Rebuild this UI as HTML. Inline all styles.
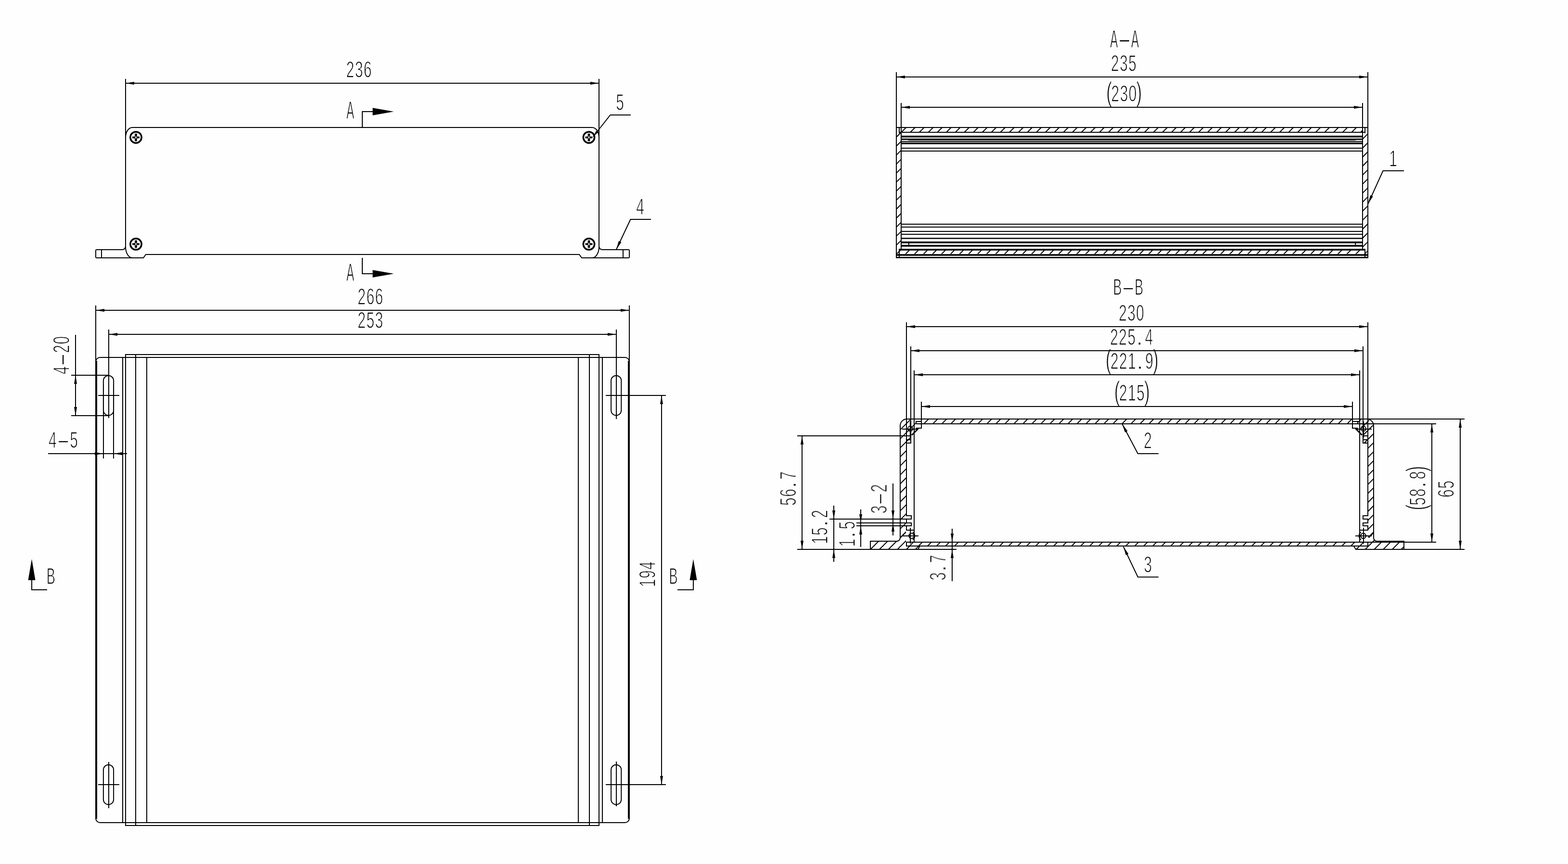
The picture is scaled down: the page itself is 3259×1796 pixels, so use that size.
<!DOCTYPE html>
<html lang="en">
<head>
<meta charset="utf-8">
<title>Enclosure drawing</title>
<style>
html,body{margin:0;padding:0;background:#fefefe;}
body{width:3259px;height:1796px;overflow:hidden;}
svg{display:block;}
.g{fill:none;stroke:#000;stroke-width:2;stroke-linecap:butt;stroke-linejoin:miter;}
.k{fill:#000;stroke:none;}
.t{font-family:"Liberation Sans",sans-serif;font-size:47.7px;fill:#000;text-anchor:middle;stroke:#fefefe;stroke-width:1.4px;vector-effect:non-scaling-stroke;stroke-linejoin:round;opacity:.999;}
</style>
</head>
<body>
<svg width="3259" height="1796" viewBox="0 0 3259 1796">
<rect x="0" y="0" width="3259" height="1796" fill="#fefefe"/>
<g class="t">
<text transform="translate(746,160) scale(0.63,1)" x="-28.75 0 28.75" y="0.7">236</text>
<text transform="translate(728,246.3) scale(0.47,1)" font-size="51.6" x="0" y="0.7">A</text>
<text transform="translate(728,583.5) scale(0.47,1)" font-size="51.6" x="0" y="0.7">A</text>
<text transform="translate(1288.5,228) scale(0.63,1)" x="0" y="0.7">5</text>
<text transform="translate(1330.5,445.5) scale(0.63,1)" x="0" y="0.7">4</text>
<text transform="translate(769.8,632) scale(0.63,1)" x="-28.75 0 28.75" y="0.7">266</text>
<text transform="translate(769.8,681.7) scale(0.63,1)" x="-28.75 0 28.75" y="0.7">253</text>
<text transform="translate(143.5,738.5) rotate(-90) scale(0.63,1)" x="-49.61 -14.38 20.85 49.61" y="0.7">4<tspan textLength="47.14" lengthAdjust="spacingAndGlyphs">-</tspan>20</text>
<text transform="translate(131.5,930.5) scale(0.63,1)" x="-35.23 0 35.23" y="0.7">4<tspan textLength="47.14" lengthAdjust="spacingAndGlyphs">-</tspan>5</text>
<text transform="translate(105.7,1213.7) scale(0.57,1)" font-size="47.5" x="0" y="0.7">B</text>
<text transform="translate(1399.6,1213.7) scale(0.57,1)" font-size="47.5" x="0" y="0.7">B</text>
<text transform="translate(1361.5,1193.8) rotate(-90) scale(0.63,1)" x="-28.75 0 28.75" y="0.7">194</text>
<text transform="translate(2337.2,98.2) scale(0.47,1)" font-size="51.6" x="-46.7 0 46.7" y="0.7">A<tspan textLength="63.48" lengthAdjust="spacingAndGlyphs">-</tspan>A</text>
<text transform="translate(2335.5,147) scale(0.63,1)" x="-28.75 0 28.75" y="0.7">235</text>
<text transform="translate(2336,210) scale(0.63,1)" x="-48.74 -28.75 0 28.75 49.84" y="0.7"><tspan font-size="57.2">(</tspan>230<tspan font-size="57.2">)</tspan></text>
<text transform="translate(2895.6,344.8) scale(0.63,1)" x="0" y="0.7">1</text>
<text transform="translate(2345,612) scale(0.57,1)" font-size="47.5" x="-39.26 0 39.26" y="0.7">B<tspan textLength="52.53" lengthAdjust="spacingAndGlyphs">-</tspan>B</text>
<text transform="translate(2351.6,666) scale(0.63,1)" x="-28.75 0 28.75" y="0.7">230</text>
<text transform="translate(2351.8,716) scale(0.63,1)" x="-57.5 -28.75 0 26.38 57.5" y="0.7">225<tspan font-size="52" textLength="22.84" lengthAdjust="spacingAndGlyphs">.</tspan>4</text>
<text transform="translate(2352.5,765.8) scale(0.63,1)" x="-77.49 -57.5 -28.75 0 26.38 57.5 78.59" y="0.7"><tspan font-size="57.2">(</tspan>221<tspan font-size="52" textLength="22.84" lengthAdjust="spacingAndGlyphs">.</tspan>9<tspan font-size="57.2">)</tspan></text>
<text transform="translate(2352.5,831.9) scale(0.63,1)" x="-48.74 -28.75 0 28.75 49.84" y="0.7"><tspan font-size="57.2">(</tspan>215<tspan font-size="57.2">)</tspan></text>
<text transform="translate(2385.7,930.8) scale(0.63,1)" x="0" y="0.7">2</text>
<text transform="translate(2385.9,1188.8) scale(0.63,1)" x="0" y="0.7">3</text>
<text transform="translate(1653.5,1015.5) rotate(-90) scale(0.63,1)" x="-43.13 -14.38 12.01 43.13" y="0.7">56<tspan font-size="52" textLength="22.84" lengthAdjust="spacingAndGlyphs">.</tspan>7</text>
<text transform="translate(1719.7,1095.5) rotate(-90) scale(0.63,1)" x="-43.13 -14.38 12.01 43.13" y="0.7">15<tspan font-size="52" textLength="22.84" lengthAdjust="spacingAndGlyphs">.</tspan>2</text>
<text transform="translate(1776,1110) rotate(-90) scale(0.63,1)" x="-28.75 -2.37 28.75" y="0.7">1<tspan font-size="52" textLength="22.84" lengthAdjust="spacingAndGlyphs">.</tspan>5</text>
<text transform="translate(1842.3,1037) rotate(-90) scale(0.63,1)" x="-35.23 0 35.23" y="0.7">3<tspan textLength="47.14" lengthAdjust="spacingAndGlyphs">-</tspan>2</text>
<text transform="translate(1964.8,1180) rotate(-90) scale(0.63,1)" x="-28.75 -2.37 28.75" y="0.7">3<tspan font-size="52" textLength="22.84" lengthAdjust="spacingAndGlyphs">.</tspan>7</text>
<text transform="translate(2962.4,1015) rotate(-90) scale(0.63,1)" x="-63.11 -43.13 -14.38 12.01 43.13 64.22" y="0.7"><tspan font-size="57.2">(</tspan>58<tspan font-size="52" textLength="22.84" lengthAdjust="spacingAndGlyphs">.</tspan>8<tspan font-size="57.2">)</tspan></text>
<text transform="translate(3021.4,1016.5) rotate(-90) scale(0.63,1)" x="-14.38 14.38" y="0.7">65</text>
</g>
<g class="g">
<line x1="261" y1="164" x2="261" y2="512"/>
<line x1="1245" y1="164" x2="1245" y2="512"/>
<line x1="261" y1="173" x2="1245" y2="173"/>
<polygon class="k" points="261,173 279,170 279,176"/>
<polygon class="k" points="1245,173 1227,176 1227,170"/>
<path d="M261,286 A14,21 0 0 1 275,265 H1231 A14,21 0 0 1 1245,286"/>
<path d="M261,513 A14,23 0 0 0 275,536 H298 L303,529 H1204 L1209,536 H1231 A14,23 0 0 0 1245,513"/>
<path d="M261,512 A7,7 0 0 1 254,519 H201 Q199,519 199,521 V534 Q199,536 201,536 H279"/>
<path d="M1245,512 A7,7 0 0 0 1252,519 H1306 Q1308,519 1308,521 V534 Q1308,536 1306,536 H1227"/>
<line x1="211" y1="519" x2="211" y2="536"/>
<line x1="1295" y1="519" x2="1295" y2="536"/>
<circle cx="282.5" cy="285.6" r="11.65" stroke-width="3.5"/>
<path class="k" d="M280.15,277.75 h4.7 v6 h5.1 v3.7 h-5.1 v6 h-4.7 v-6 h-5.1 v-3.7 h5.1 z"/>
<path d="M282.5,281.6 l0.9,3.2 l1,0.8 l-1,0.8 l-0.9,3.2 l-0.9,-3.2 l-1,-0.8 l1,-0.8 z" fill="#fefefe" stroke="none"/>
<circle cx="282.5" cy="507.4" r="11.65" stroke-width="3.5"/>
<path class="k" d="M280.15,499.55 h4.7 v6 h5.1 v3.7 h-5.1 v6 h-4.7 v-6 h-5.1 v-3.7 h5.1 z"/>
<path d="M282.5,503.4 l0.9,3.2 l1,0.8 l-1,0.8 l-0.9,3.2 l-0.9,-3.2 l-1,-0.8 l1,-0.8 z" fill="#fefefe" stroke="none"/>
<circle cx="1224" cy="285.6" r="11.65" stroke-width="3.5"/>
<path class="k" d="M1221.65,277.75 h4.7 v6 h5.1 v3.7 h-5.1 v6 h-4.7 v-6 h-5.1 v-3.7 h5.1 z"/>
<path d="M1224,281.6 l0.9,3.2 l1,0.8 l-1,0.8 l-0.9,3.2 l-0.9,-3.2 l-1,-0.8 l1,-0.8 z" fill="#fefefe" stroke="none"/>
<circle cx="1224" cy="507.4" r="11.65" stroke-width="3.5"/>
<path class="k" d="M1221.65,499.55 h4.7 v6 h5.1 v3.7 h-5.1 v6 h-4.7 v-6 h-5.1 v-3.7 h5.1 z"/>
<path d="M1224,503.4 l0.9,3.2 l1,0.8 l-1,0.8 l-0.9,3.2 l-0.9,-3.2 l-1,-0.8 l1,-0.8 z" fill="#fefefe" stroke="none"/>
<line x1="753" y1="231" x2="753" y2="265"/>
<line x1="752" y1="232" x2="776" y2="232"/>
<polygon class="k" points="774.5,224.2 774.5,239.8 818.5,232"/>
<line x1="753" y1="536" x2="753" y2="570"/>
<line x1="752" y1="569" x2="776" y2="569"/>
<polygon class="k" points="774.5,561.2 774.5,576.8 818.5,569"/>
<path d="M1233,284 L1268.5,239 H1311"/>
<polygon class="k" points="1232.5,284.5 1239.13,271.9 1243.21,275.12"/>
<path d="M1281,518.5 L1310.5,456 H1353"/>
<polygon class="k" points="1281,518.5 1285.97,500.94 1291.4,503.5"/>
<line x1="199" y1="635" x2="199" y2="752"/>
<line x1="1308" y1="635" x2="1308" y2="752"/>
<line x1="199" y1="645" x2="1308" y2="645"/>
<polygon class="k" points="199,645 217,642 217,648"/>
<polygon class="k" points="1308,645 1290,648 1290,642"/>
<line x1="226" y1="685" x2="226" y2="869"/>
<line x1="1281" y1="685" x2="1281" y2="871"/>
<line x1="226" y1="695" x2="1281" y2="695"/>
<polygon class="k" points="226,695 244,692 244,698"/>
<polygon class="k" points="1281,695 1263,698 1263,692"/>
<line x1="200" y1="750" x2="200" y2="1702" stroke-width="4"/>
<line x1="1307" y1="750" x2="1307" y2="1702" stroke-width="4"/>
<path d="M199,752 A9,9 0 0 1 208,743 H1299 A9,9 0 0 1 1308,752"/>
<path d="M199,1701 A9,9 0 0 0 208,1710 H1299 A9,9 0 0 0 1308,1701"/>
<path d="M261,1717 V737 H1245 V1717"/>
<line x1="260" y1="1716" x2="1246" y2="1716"/>
<line x1="282" y1="737" x2="282" y2="1716"/>
<line x1="1225" y1="737" x2="1225" y2="1716"/>
<line x1="255" y1="743" x2="255" y2="1710"/>
<line x1="305" y1="743" x2="305" y2="1710"/>
<line x1="1202" y1="743" x2="1202" y2="1710"/>
<line x1="1252" y1="743" x2="1252" y2="1710"/>
<path d="M214.9,791.3 A10.6,10.6 0 0 1 236.1,791.3 V852.9 A10.6,10.6 0 0 1 214.9,852.9 Z"/>
<path d="M214.9,1600.3 A10.6,10.6 0 0 1 236.1,1600.3 V1661.9 A10.6,10.6 0 0 1 214.9,1661.9 Z"/>
<path d="M1270.1,791.3 A10.6,10.6 0 0 1 1291.3,791.3 V852.9 A10.6,10.6 0 0 1 1270.1,852.9 Z"/>
<path d="M1270.1,1600.3 A10.6,10.6 0 0 1 1291.3,1600.3 V1661.9 A10.6,10.6 0 0 1 1270.1,1661.9 Z"/>
<line x1="204" y1="822" x2="248" y2="822"/>
<line x1="204" y1="1631" x2="248" y2="1631"/>
<line x1="226" y1="1584" x2="226" y2="1680"/>
<line x1="1281" y1="1583" x2="1281" y2="1676"/>
<line x1="1259" y1="822" x2="1384" y2="822"/>
<line x1="1259" y1="1631" x2="1384" y2="1631"/>
<line x1="1375" y1="822" x2="1375" y2="1631"/>
<polygon class="k" points="1375,822 1378,840 1372,840"/>
<polygon class="k" points="1375,1631 1372,1613 1378,1613"/>
<line x1="148" y1="780" x2="226" y2="780"/>
<line x1="148" y1="864" x2="226" y2="864"/>
<line x1="157" y1="696" x2="157" y2="864"/>
<polygon class="k" points="157,780 160,798 154,798"/>
<polygon class="k" points="157,864 154,846 160,846"/>
<line x1="215" y1="800" x2="215" y2="953"/>
<line x1="236" y1="800" x2="236" y2="953"/>
<line x1="100" y1="943" x2="264" y2="943"/>
<polygon class="k" points="215,943 197,946 197,940"/>
<polygon class="k" points="236,943 254,940 254,946"/>
<line x1="66" y1="1205" x2="66" y2="1227"/>
<line x1="65" y1="1226" x2="98" y2="1226"/>
<polygon class="k" points="58.5,1206 73.5,1206 66,1162"/>
<line x1="1441" y1="1205" x2="1441" y2="1227"/>
<line x1="1408" y1="1226" x2="1442" y2="1226"/>
<polygon class="k" points="1433.5,1206 1448.5,1206 1441,1162"/>
<line x1="1863" y1="150" x2="1863" y2="536"/>
<line x1="2843" y1="150" x2="2843" y2="536"/>
<line x1="1863" y1="160" x2="2843" y2="160"/>
<polygon class="k" points="1863,160 1881,157 1881,163"/>
<polygon class="k" points="2843,160 2825,163 2825,157"/>
<line x1="1873" y1="214" x2="1873" y2="519"/>
<line x1="2832" y1="214" x2="2832" y2="519"/>
<line x1="1873" y1="223" x2="2832" y2="223"/>
<polygon class="k" points="1873,223 1891,220 1891,226"/>
<polygon class="k" points="2832,223 2814,226 2814,220"/>
<line x1="1863" y1="265" x2="2843" y2="265"/>
<line x1="1868" y1="275" x2="2838" y2="275"/>
<line x1="1869" y1="265" x2="1869" y2="277"/>
<line x1="2837" y1="265" x2="2837" y2="277"/>
<clipPath id="h1"><rect x="1874" y="266" width="957" height="8"/></clipPath>
<path clip-path="url(#h1)" d="M1871.3,277 L1885.3,263 M1890.02,277 L1904.02,263 M1908.74,277 L1922.74,263 M1927.46,277 L1941.46,263 M1946.18,277 L1960.18,263 M1964.9,277 L1978.9,263 M1983.62,277 L1997.62,263 M2002.34,277 L2016.34,263 M2021.06,277 L2035.06,263 M2039.78,277 L2053.78,263 M2058.5,277 L2072.5,263 M2077.22,277 L2091.22,263 M2095.94,277 L2109.94,263 M2114.66,277 L2128.66,263 M2133.38,277 L2147.38,263 M2152.1,277 L2166.1,263 M2170.82,277 L2184.82,263 M2189.54,277 L2203.54,263 M2208.26,277 L2222.26,263 M2226.98,277 L2240.98,263 M2245.7,277 L2259.7,263 M2264.42,277 L2278.42,263 M2283.14,277 L2297.14,263 M2301.86,277 L2315.86,263 M2320.58,277 L2334.58,263 M2339.3,277 L2353.3,263 M2358.02,277 L2372.02,263 M2376.74,277 L2390.74,263 M2395.46,277 L2409.46,263 M2414.18,277 L2428.18,263 M2432.9,277 L2446.9,263 M2451.62,277 L2465.62,263 M2470.34,277 L2484.34,263 M2489.06,277 L2503.06,263 M2507.78,277 L2521.78,263 M2526.5,277 L2540.5,263 M2545.22,277 L2559.22,263 M2563.94,277 L2577.94,263 M2582.66,277 L2596.66,263 M2601.38,277 L2615.38,263 M2620.1,277 L2634.1,263 M2638.82,277 L2652.82,263 M2657.54,277 L2671.54,263 M2676.26,277 L2690.26,263 M2694.98,277 L2708.98,263 M2713.7,277 L2727.7,263 M2732.42,277 L2746.42,263 M2751.14,277 L2765.14,263 M2769.86,277 L2783.86,263 M2788.58,277 L2802.58,263 M2807.3,277 L2821.3,263 M2826.02,277 L2834,269.02"/>
<line x1="1873" y1="283.9" x2="2832" y2="283.9" stroke-width="3.8"/>
<line x1="1873" y1="289.9" x2="2832" y2="289.9" stroke-width="3.7"/>
<line x1="1873" y1="294" x2="2832" y2="294" stroke-width="1.8"/>
<line x1="1873" y1="297.9" x2="2832" y2="297.9" stroke-width="3.5"/>
<line x1="1873" y1="308" x2="2832" y2="308"/>
<line x1="1873" y1="314" x2="2832" y2="314"/>
<rect x="1874" y="290.8" width="14" height="2.3" fill="#fefefe" stroke="none"/>
<rect x="2817.5" y="290.8" width="13.5" height="2.3" fill="#fefefe" stroke="none"/>
<line x1="1873" y1="466" x2="2832" y2="466"/>
<line x1="1873" y1="472" x2="2832" y2="472"/>
<line x1="1873" y1="481" x2="2832" y2="481"/>
<line x1="1873" y1="487" x2="2832" y2="487"/>
<line x1="1873" y1="495.5" x2="2832" y2="495.5" stroke-width="2.6"/>
<line x1="1873" y1="503.9" x2="2832" y2="503.9" stroke-width="3.6"/>
<line x1="1873" y1="510.9" x2="2832" y2="510.9" stroke-width="3.6"/>
<line x1="1888.8" y1="505" x2="1888.8" y2="509.5"/>
<line x1="2817.2" y1="505" x2="2817.2" y2="509.5"/>
<line x1="1868" y1="519" x2="2838" y2="519" stroke-width="3.4"/>
<line x1="1863" y1="529.9" x2="2843" y2="529.9" stroke-width="3.5"/>
<line x1="1862" y1="535.4" x2="2844" y2="535.4" stroke-width="2.8"/>
<line x1="1869" y1="518" x2="1869" y2="535"/>
<line x1="2837" y1="518" x2="2837" y2="535"/>
<clipPath id="h2"><rect x="1870" y="520.5" width="966" height="7.3"/></clipPath>
<path clip-path="url(#h2)" d="M1867,524.48 L1873.98,517.5 M1879.4,530.8 L1892.7,517.5 M1898.12,530.8 L1911.42,517.5 M1916.84,530.8 L1930.14,517.5 M1935.56,530.8 L1948.86,517.5 M1954.28,530.8 L1967.58,517.5 M1973,530.8 L1986.3,517.5 M1991.72,530.8 L2005.02,517.5 M2010.44,530.8 L2023.74,517.5 M2029.16,530.8 L2042.46,517.5 M2047.88,530.8 L2061.18,517.5 M2066.6,530.8 L2079.9,517.5 M2085.32,530.8 L2098.62,517.5 M2104.04,530.8 L2117.34,517.5 M2122.76,530.8 L2136.06,517.5 M2141.48,530.8 L2154.78,517.5 M2160.2,530.8 L2173.5,517.5 M2178.92,530.8 L2192.22,517.5 M2197.64,530.8 L2210.94,517.5 M2216.36,530.8 L2229.66,517.5 M2235.08,530.8 L2248.38,517.5 M2253.8,530.8 L2267.1,517.5 M2272.52,530.8 L2285.82,517.5 M2291.24,530.8 L2304.54,517.5 M2309.96,530.8 L2323.26,517.5 M2328.68,530.8 L2341.98,517.5 M2347.4,530.8 L2360.7,517.5 M2366.12,530.8 L2379.42,517.5 M2384.84,530.8 L2398.14,517.5 M2403.56,530.8 L2416.86,517.5 M2422.28,530.8 L2435.58,517.5 M2441,530.8 L2454.3,517.5 M2459.72,530.8 L2473.02,517.5 M2478.44,530.8 L2491.74,517.5 M2497.16,530.8 L2510.46,517.5 M2515.88,530.8 L2529.18,517.5 M2534.6,530.8 L2547.9,517.5 M2553.32,530.8 L2566.62,517.5 M2572.04,530.8 L2585.34,517.5 M2590.76,530.8 L2604.06,517.5 M2609.48,530.8 L2622.78,517.5 M2628.2,530.8 L2641.5,517.5 M2646.92,530.8 L2660.22,517.5 M2665.64,530.8 L2678.94,517.5 M2684.36,530.8 L2697.66,517.5 M2703.08,530.8 L2716.38,517.5 M2721.8,530.8 L2735.1,517.5 M2740.52,530.8 L2753.82,517.5 M2759.24,530.8 L2772.54,517.5 M2777.96,530.8 L2791.26,517.5 M2796.68,530.8 L2809.98,517.5 M2815.4,530.8 L2828.7,517.5 M2834.12,530.8 L2839,525.92"/>
<clipPath id="h3"><rect x="1864" y="276" width="8" height="252"/></clipPath>
<path clip-path="url(#h3)" d="M1861,287 L1875,273 M1861,305.72 L1875,291.72 M1861,324.44 L1875,310.44 M1861,343.16 L1875,329.16 M1861,361.88 L1875,347.88 M1861,380.6 L1875,366.6 M1861,399.32 L1875,385.32 M1861,418.04 L1875,404.04 M1861,436.76 L1875,422.76 M1861,455.48 L1875,441.48 M1861,474.2 L1875,460.2 M1861,492.92 L1875,478.92 M1861,511.64 L1875,497.64 M1861,530.36 L1875,516.36"/>
<clipPath id="h4"><rect x="2833" y="276" width="9" height="252"/></clipPath>
<path clip-path="url(#h4)" d="M2830,291.06 L2845,276.06 M2830,309.78 L2845,294.78 M2830,328.5 L2845,313.5 M2830,347.22 L2845,332.22 M2830,365.94 L2845,350.94 M2830,384.66 L2845,369.66 M2830,403.38 L2845,388.38 M2830,422.1 L2845,407.1 M2830,440.82 L2845,425.82 M2830,459.54 L2845,444.54 M2830,478.26 L2845,463.26 M2830,496.98 L2845,481.98 M2830,515.7 L2845,500.7 M2833.42,531 L2845,519.42"/>
<path d="M2843.5,423.5 L2874.5,355 H2918"/>
<polygon class="k" points="2843.5,423.5 2848.19,405.86 2853.65,408.34"/>
<line x1="1884" y1="670" x2="1884" y2="1073"/>
<line x1="1884" y1="1078" x2="1884" y2="1088"/>
<line x1="1884" y1="1092" x2="1884" y2="1103"/>
<line x1="2843" y1="670" x2="2843" y2="1073"/>
<line x1="2843" y1="1078" x2="2843" y2="1088"/>
<line x1="2843" y1="1092" x2="2843" y2="1103"/>
<line x1="1884" y1="679" x2="2843" y2="679"/>
<polygon class="k" points="1884,679 1902,676 1902,682"/>
<polygon class="k" points="2843,679 2825,682 2825,676"/>
<line x1="1893" y1="720" x2="1893" y2="921"/>
<line x1="2833" y1="720" x2="2833" y2="921"/>
<line x1="1893" y1="729" x2="2833" y2="729"/>
<polygon class="k" points="1893,729 1911,726 1911,732"/>
<polygon class="k" points="2833,729 2815,732 2815,726"/>
<line x1="1900" y1="770" x2="1900" y2="1127"/>
<line x1="2826" y1="770" x2="2826" y2="1127"/>
<line x1="1900" y1="779" x2="2826" y2="779"/>
<polygon class="k" points="1900,779 1918,776 1918,782"/>
<polygon class="k" points="2826,779 2808,782 2808,776"/>
<line x1="1915" y1="835" x2="1915" y2="891"/>
<line x1="2811" y1="835" x2="2811" y2="891"/>
<line x1="1915" y1="845" x2="2811" y2="845"/>
<polygon class="k" points="1915,845 1933,842 1933,848"/>
<polygon class="k" points="2811,845 2793,848 2793,842"/>
<path d="M1871,1119 V885 A14,14 0 0 1 1885,871 H2841 A14,14 0 0 1 2855,885 V1119"/>
<line x1="1904" y1="881" x2="2822" y2="881"/>
<clipPath id="h5"><rect x="1916" y="872" width="894" height="8"/></clipPath>
<path clip-path="url(#h5)" d="M1913,869.38 L1913.38,869 M1918.1,883 L1932.1,869 M1936.82,883 L1950.82,869 M1955.54,883 L1969.54,869 M1974.26,883 L1988.26,869 M1992.98,883 L2006.98,869 M2011.7,883 L2025.7,869 M2030.42,883 L2044.42,869 M2049.14,883 L2063.14,869 M2067.86,883 L2081.86,869 M2086.58,883 L2100.58,869 M2105.3,883 L2119.3,869 M2124.02,883 L2138.02,869 M2142.74,883 L2156.74,869 M2161.46,883 L2175.46,869 M2180.18,883 L2194.18,869 M2198.9,883 L2212.9,869 M2217.62,883 L2231.62,869 M2236.34,883 L2250.34,869 M2255.06,883 L2269.06,869 M2273.78,883 L2287.78,869 M2292.5,883 L2306.5,869 M2311.22,883 L2325.22,869 M2329.94,883 L2343.94,869 M2348.66,883 L2362.66,869 M2367.38,883 L2381.38,869 M2386.1,883 L2400.1,869 M2404.82,883 L2418.82,869 M2423.54,883 L2437.54,869 M2442.26,883 L2456.26,869 M2460.98,883 L2474.98,869 M2479.7,883 L2493.7,869 M2498.42,883 L2512.42,869 M2517.14,883 L2531.14,869 M2535.86,883 L2549.86,869 M2554.58,883 L2568.58,869 M2573.3,883 L2587.3,869 M2592.02,883 L2606.02,869 M2610.74,883 L2624.74,869 M2629.46,883 L2643.46,869 M2648.18,883 L2662.18,869 M2666.9,883 L2680.9,869 M2685.62,883 L2699.62,869 M2704.34,883 L2718.34,869 M2723.06,883 L2737.06,869 M2741.78,883 L2755.78,869 M2760.5,883 L2774.5,869 M2779.22,883 L2793.22,869 M2797.94,883 L2811.94,869"/>
<path d="M1904,881 V876 H1915 M1904,890 H1915 M1884,914 H1893 M1884,921 H1894"/>
<path d="M1908,891.5 L1895,904.5" stroke-width="3"/>
<line x1="1892.5" y1="876" x2="1892.5" y2="910" stroke-width="3.2"/>
<circle cx="1891.8" cy="891.2" r="5.1"/>
<line x1="1875" y1="892" x2="1909" y2="892"/>
<path d="M2822,881 V876 H2811 M2822,890 H2811 M2842,906 H2833 M2842,914 H2833 M2842,921 H2832"/>
<path d="M2818,891.5 L2831,904.5" stroke-width="3"/>
<line x1="2833.5" y1="876" x2="2833.5" y2="910" stroke-width="3.2"/>
<circle cx="2833.8" cy="891.2" r="5.1"/>
<line x1="2817" y1="892" x2="2851" y2="892"/>
<clipPath id="h6"><polygon points="1872,885 1876,876 1885,872 1903,872 1903,890 1893,890 1893,920 1883,920 1883,1118 1872,1118"/></clipPath>
<path clip-path="url(#h6)" d="M1869,876.74 L1876.74,869 M1869,895.46 L1895.46,869 M1869,914.18 L1908,875.18 M1869,932.9 L1908,893.9 M1869,951.62 L1908,912.62 M1869,970.34 L1908,931.34 M1869,989.06 L1908,950.06 M1869,1007.78 L1908,968.78 M1869,1026.5 L1908,987.5 M1869,1045.22 L1908,1006.22 M1869,1063.94 L1908,1024.94 M1869,1082.66 L1908,1043.66 M1869,1101.38 L1908,1062.38 M1869,1120.1 L1908,1081.1 M1878.82,1129 L1908,1099.82 M1897.54,1129 L1908,1118.54"/>
<clipPath id="h7"><polygon points="2854,885 2850,876 2841,872 2823,872 2823,890 2833,890 2833,920 2844,920 2844,1118 2854,1118"/></clipPath>
<path clip-path="url(#h7)" d="M2818,882.32 L2831.32,869 M2818,901.04 L2850.04,869 M2818,919.76 L2857,880.76 M2818,938.48 L2857,899.48 M2818,957.2 L2857,918.2 M2818,975.92 L2857,936.92 M2818,994.64 L2857,955.64 M2818,1013.36 L2857,974.36 M2818,1032.08 L2857,993.08 M2818,1050.8 L2857,1011.8 M2818,1069.52 L2857,1030.52 M2818,1088.24 L2857,1049.24 M2818,1106.96 L2857,1067.96 M2818,1125.68 L2857,1086.68 M2833.4,1129 L2857,1105.4 M2852.12,1129 L2857,1124.12"/>
<path d="M1884,1072 H1894 V1079 H1884 M1884,1087 H1894 V1093 H1884 M1884,1102 H1900"/>
<path d="M2842,1072 H2833 V1079 H2843 M2843,1087 H2833 V1093 H2843 M2843,1102 H2826"/>
<circle cx="1894.5" cy="1114" r="5.4"/>
<path d="M1897,1106 A9.5,9.5 0 0 1 1897,1122"/>
<line x1="1874" y1="1114" x2="1909" y2="1114"/>
<line x1="1892" y1="1097" x2="1892" y2="1130"/>
<circle cx="2833.5" cy="1114" r="5.4"/>
<path d="M2829,1106 A9.5,9.5 0 0 0 2829,1122"/>
<line x1="2817" y1="1114" x2="2851" y2="1114"/>
<line x1="2834" y1="1097" x2="2834" y2="1130"/>
<line x1="1883" y1="1127" x2="2844" y2="1127"/>
<line x1="1883" y1="1135" x2="2844" y2="1135"/>
<line x1="1884" y1="1126" x2="1884" y2="1136"/>
<line x1="2843" y1="1126" x2="2843" y2="1136"/>
<clipPath id="h8"><rect x="1886" y="1128" width="955" height="6"/></clipPath>
<path clip-path="url(#h8)" d="M1888.36,1137 L1900.36,1125 M1907.08,1137 L1919.08,1125 M1925.8,1137 L1937.8,1125 M1944.52,1137 L1956.52,1125 M1963.24,1137 L1975.24,1125 M1981.96,1137 L1993.96,1125 M2000.68,1137 L2012.68,1125 M2019.4,1137 L2031.4,1125 M2038.12,1137 L2050.12,1125 M2056.84,1137 L2068.84,1125 M2075.56,1137 L2087.56,1125 M2094.28,1137 L2106.28,1125 M2113,1137 L2125,1125 M2131.72,1137 L2143.72,1125 M2150.44,1137 L2162.44,1125 M2169.16,1137 L2181.16,1125 M2187.88,1137 L2199.88,1125 M2206.6,1137 L2218.6,1125 M2225.32,1137 L2237.32,1125 M2244.04,1137 L2256.04,1125 M2262.76,1137 L2274.76,1125 M2281.48,1137 L2293.48,1125 M2300.2,1137 L2312.2,1125 M2318.92,1137 L2330.92,1125 M2337.64,1137 L2349.64,1125 M2356.36,1137 L2368.36,1125 M2375.08,1137 L2387.08,1125 M2393.8,1137 L2405.8,1125 M2412.52,1137 L2424.52,1125 M2431.24,1137 L2443.24,1125 M2449.96,1137 L2461.96,1125 M2468.68,1137 L2480.68,1125 M2487.4,1137 L2499.4,1125 M2506.12,1137 L2518.12,1125 M2524.84,1137 L2536.84,1125 M2543.56,1137 L2555.56,1125 M2562.28,1137 L2574.28,1125 M2581,1137 L2593,1125 M2599.72,1137 L2611.72,1125 M2618.44,1137 L2630.44,1125 M2637.16,1137 L2649.16,1125 M2655.88,1137 L2667.88,1125 M2674.6,1137 L2686.6,1125 M2693.32,1137 L2705.32,1125 M2712.04,1137 L2724.04,1125 M2730.76,1137 L2742.76,1125 M2749.48,1137 L2761.48,1125 M2768.2,1137 L2780.2,1125 M2786.92,1137 L2798.92,1125 M2805.64,1137 L2817.64,1125 M2824.36,1137 L2836.36,1125 M2843.08,1137 L2844,1136.08"/>
<path d="M1871,1118 A7,7 0 0 1 1864,1125 H1809 V1142"/>
<clipPath id="h9"><polygon points="1810,1126 1866,1126 1872,1119 1872,1100 1883,1100 1883,1136 1911,1136 1908,1141 1810,1141"/></clipPath>
<path clip-path="url(#h9)" d="M1807,1106.66 L1816.66,1097 M1807,1125.38 L1835.38,1097 M1807.1,1144 L1854.1,1097 M1825.82,1144 L1872.82,1097 M1844.54,1144 L1891.54,1097 M1863.26,1144 L1910.26,1097 M1881.98,1144 L1915,1110.98 M1900.7,1144 L1915,1129.7"/>
<path d="M1911.5,1135.5 L1908,1142"/>
<path d="M2855,1118 A7,7 0 0 0 2862,1125 H2918 V1142"/>
<line x1="2861" y1="1125.4" x2="2918" y2="1125.4" stroke-width="3"/>
<clipPath id="h10"><polygon points="2917,1126 2861,1126 2855,1119 2855,1100 2844,1100 2844,1136 2815,1136 2818,1141 2917,1141"/></clipPath>
<path clip-path="url(#h10)" d="M2811,1112.36 L2826.36,1097 M2811,1131.08 L2845.08,1097 M2816.8,1144 L2863.8,1097 M2835.52,1144 L2882.52,1097 M2854.24,1144 L2901.24,1097 M2872.96,1144 L2919.96,1097 M2891.68,1144 L2920,1115.68 M2910.4,1144 L2920,1134.4"/>
<path d="M2814,1135.5 L2818,1142"/>
<line x1="1657" y1="1142" x2="1988" y2="1142"/>
<line x1="2817" y1="1142" x2="3044" y2="1142"/>
<line x1="2841" y1="871" x2="3044" y2="871"/>
<line x1="2822" y1="881" x2="2985" y2="881"/>
<line x1="2843" y1="1127" x2="2985" y2="1127"/>
<line x1="2976" y1="881" x2="2976" y2="1127"/>
<polygon class="k" points="2976,881 2979,899 2973,899"/>
<polygon class="k" points="2976,1127 2973,1109 2979,1109"/>
<line x1="3035" y1="871" x2="3035" y2="1142"/>
<polygon class="k" points="3035,871 3038,889 3032,889"/>
<polygon class="k" points="3035,1142 3032,1124 3038,1124"/>
<line x1="1657" y1="906" x2="1891" y2="906"/>
<line x1="1667" y1="906" x2="1667" y2="1142"/>
<polygon class="k" points="1667,906 1670,924 1664,924"/>
<polygon class="k" points="1667,1142 1664,1124 1670,1124"/>
<line x1="1724" y1="1079" x2="1894" y2="1079"/>
<line x1="1733" y1="1051" x2="1733" y2="1168"/>
<polygon class="k" points="1733,1079 1730,1061 1736,1061"/>
<polygon class="k" points="1733,1142 1736,1160 1730,1160"/>
<line x1="1780" y1="1087" x2="1894" y2="1087"/>
<line x1="1780" y1="1093" x2="1894" y2="1093"/>
<line x1="1789" y1="1059" x2="1789" y2="1137"/>
<polygon class="k" points="1789,1087 1786,1069 1792,1069"/>
<polygon class="k" points="1789,1093 1792,1111 1786,1111"/>
<line x1="1856" y1="1005" x2="1856" y2="1113"/>
<polygon class="k" points="1856,1079 1853,1061 1859,1061"/>
<polygon class="k" points="1856,1087 1859,1105 1853,1105"/>
<line x1="1979" y1="1099" x2="1979" y2="1208"/>
<polygon class="k" points="1979,1127 1976,1109 1982,1109"/>
<polygon class="k" points="1979,1142 1982,1160 1976,1160"/>
<path d="M2332.5,881.5 L2365,943 H2408"/>
<polygon class="k" points="2332.5,881.5 2343.56,896.01 2338.26,898.82"/>
<path d="M2335,1136.5 L2365,1199.5 H2408"/>
<polygon class="k" points="2335,1136.5 2345.45,1151.46 2340.03,1154.04"/>
</g>
</svg>
</body>
</html>
